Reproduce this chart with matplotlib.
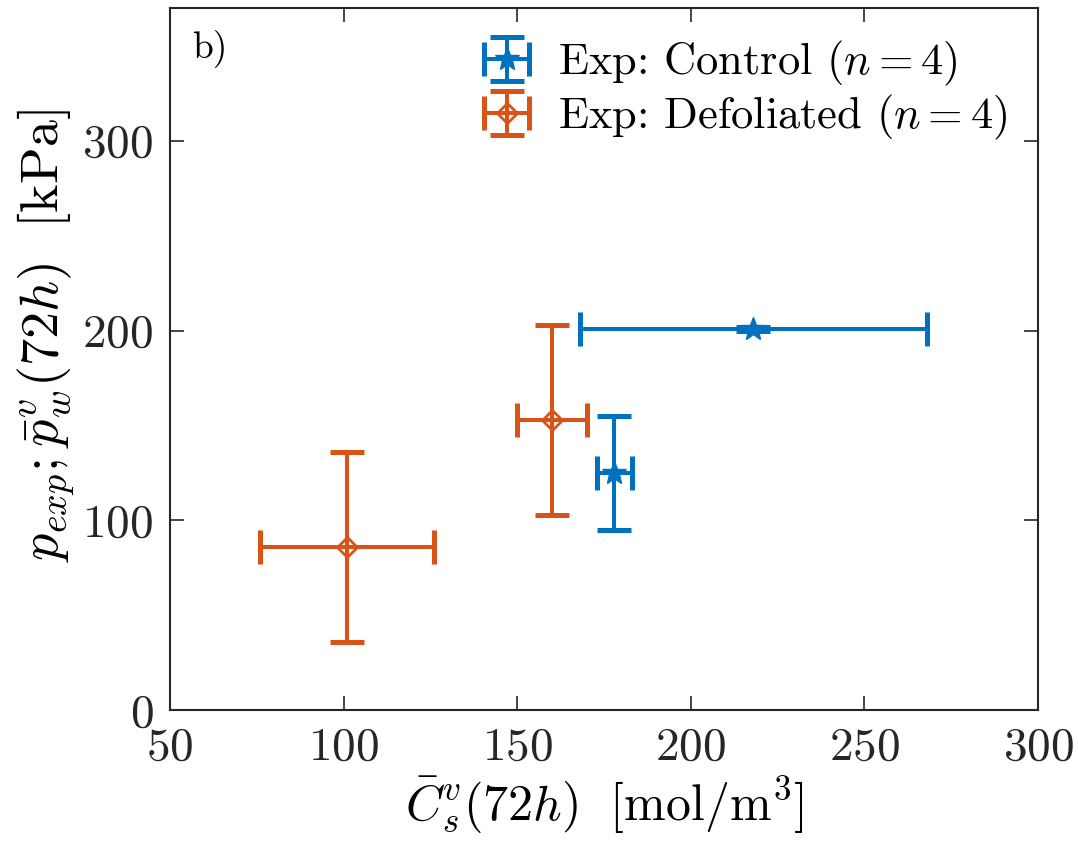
import numpy as np
import matplotlib
matplotlib.use('Agg')
import matplotlib.pyplot as plt

plt.rcParams['font.family'] = 'serif'
plt.rcParams['font.serif'] = ['cmr10']
plt.rcParams['mathtext.fontset'] = 'cm'
plt.rcParams['axes.formatter.use_mathtext'] = True

# Data
ctrl_x = [218, 178]
ctrl_y = [201, 125]
ctrl_xerr = [50, 5]
ctrl_yerr = [1, 30]

def_x = [101, 160]
def_y = [86, 153]
def_xerr = [25, 10]
def_yerr = [50, 50]

blue = '#0072BD'
orange = '#D95319'

fig = plt.figure(figsize=(10.78, 8.43), dpi=100)
ax = fig.add_axes([0.1577, 0.1578, 0.8053, 0.8327])

ax.errorbar(ctrl_x, ctrl_y, xerr=ctrl_xerr, yerr=ctrl_yerr, fmt='*', color=blue,
            ms=18, lw=2.9, capsize=12, capthick=3.6,
            label=r'Exp: Control $(n = 4)$')
eb = ax.errorbar(def_x, def_y, xerr=def_xerr, yerr=def_yerr, fmt='D', color=orange,
                 mfc='none', mec=orange, ms=10, lw=2.9, capsize=12, capthick=3.6,
                 label=r'Exp: Defoliated $(n = 4)$')
eb[0].set_markeredgewidth(2)

ax.set_xlim(50, 300)
ax.set_ylim(0, 370)
ax.set_xticks([50, 100, 150, 200, 250, 300])
ax.set_yticks([0, 100, 200, 300])
ax.tick_params(direction='in', top=True, right=True, length=10, width=1.2,
               labelsize=34, pad=12, colors='#262626')
for s in ax.spines.values():
    s.set_linewidth(1.5)
    s.set_color('#262626')

ax.set_xlabel(r'$\bar{C}^v_s(72h)\ \ [\mathrm{mol/m}^3]$', fontsize=36, labelpad=4)
ax.set_ylabel(r'$p_{exp};\bar{p}^v_w(72h)\ \ [\mathrm{kPa}]$', fontsize=39)
ax.yaxis.set_label_coords(-0.108, 0.534)

ax.text(0.025, 0.97, 'b)', transform=ax.transAxes, fontsize=27, va='top', ha='left')

ax.legend(loc='upper right', fontsize=32, frameon=False, handlelength=1.1,
          handletextpad=0.6, labelspacing=0.1, borderaxespad=0.3)

fig.savefig('out.png', dpi=100)
